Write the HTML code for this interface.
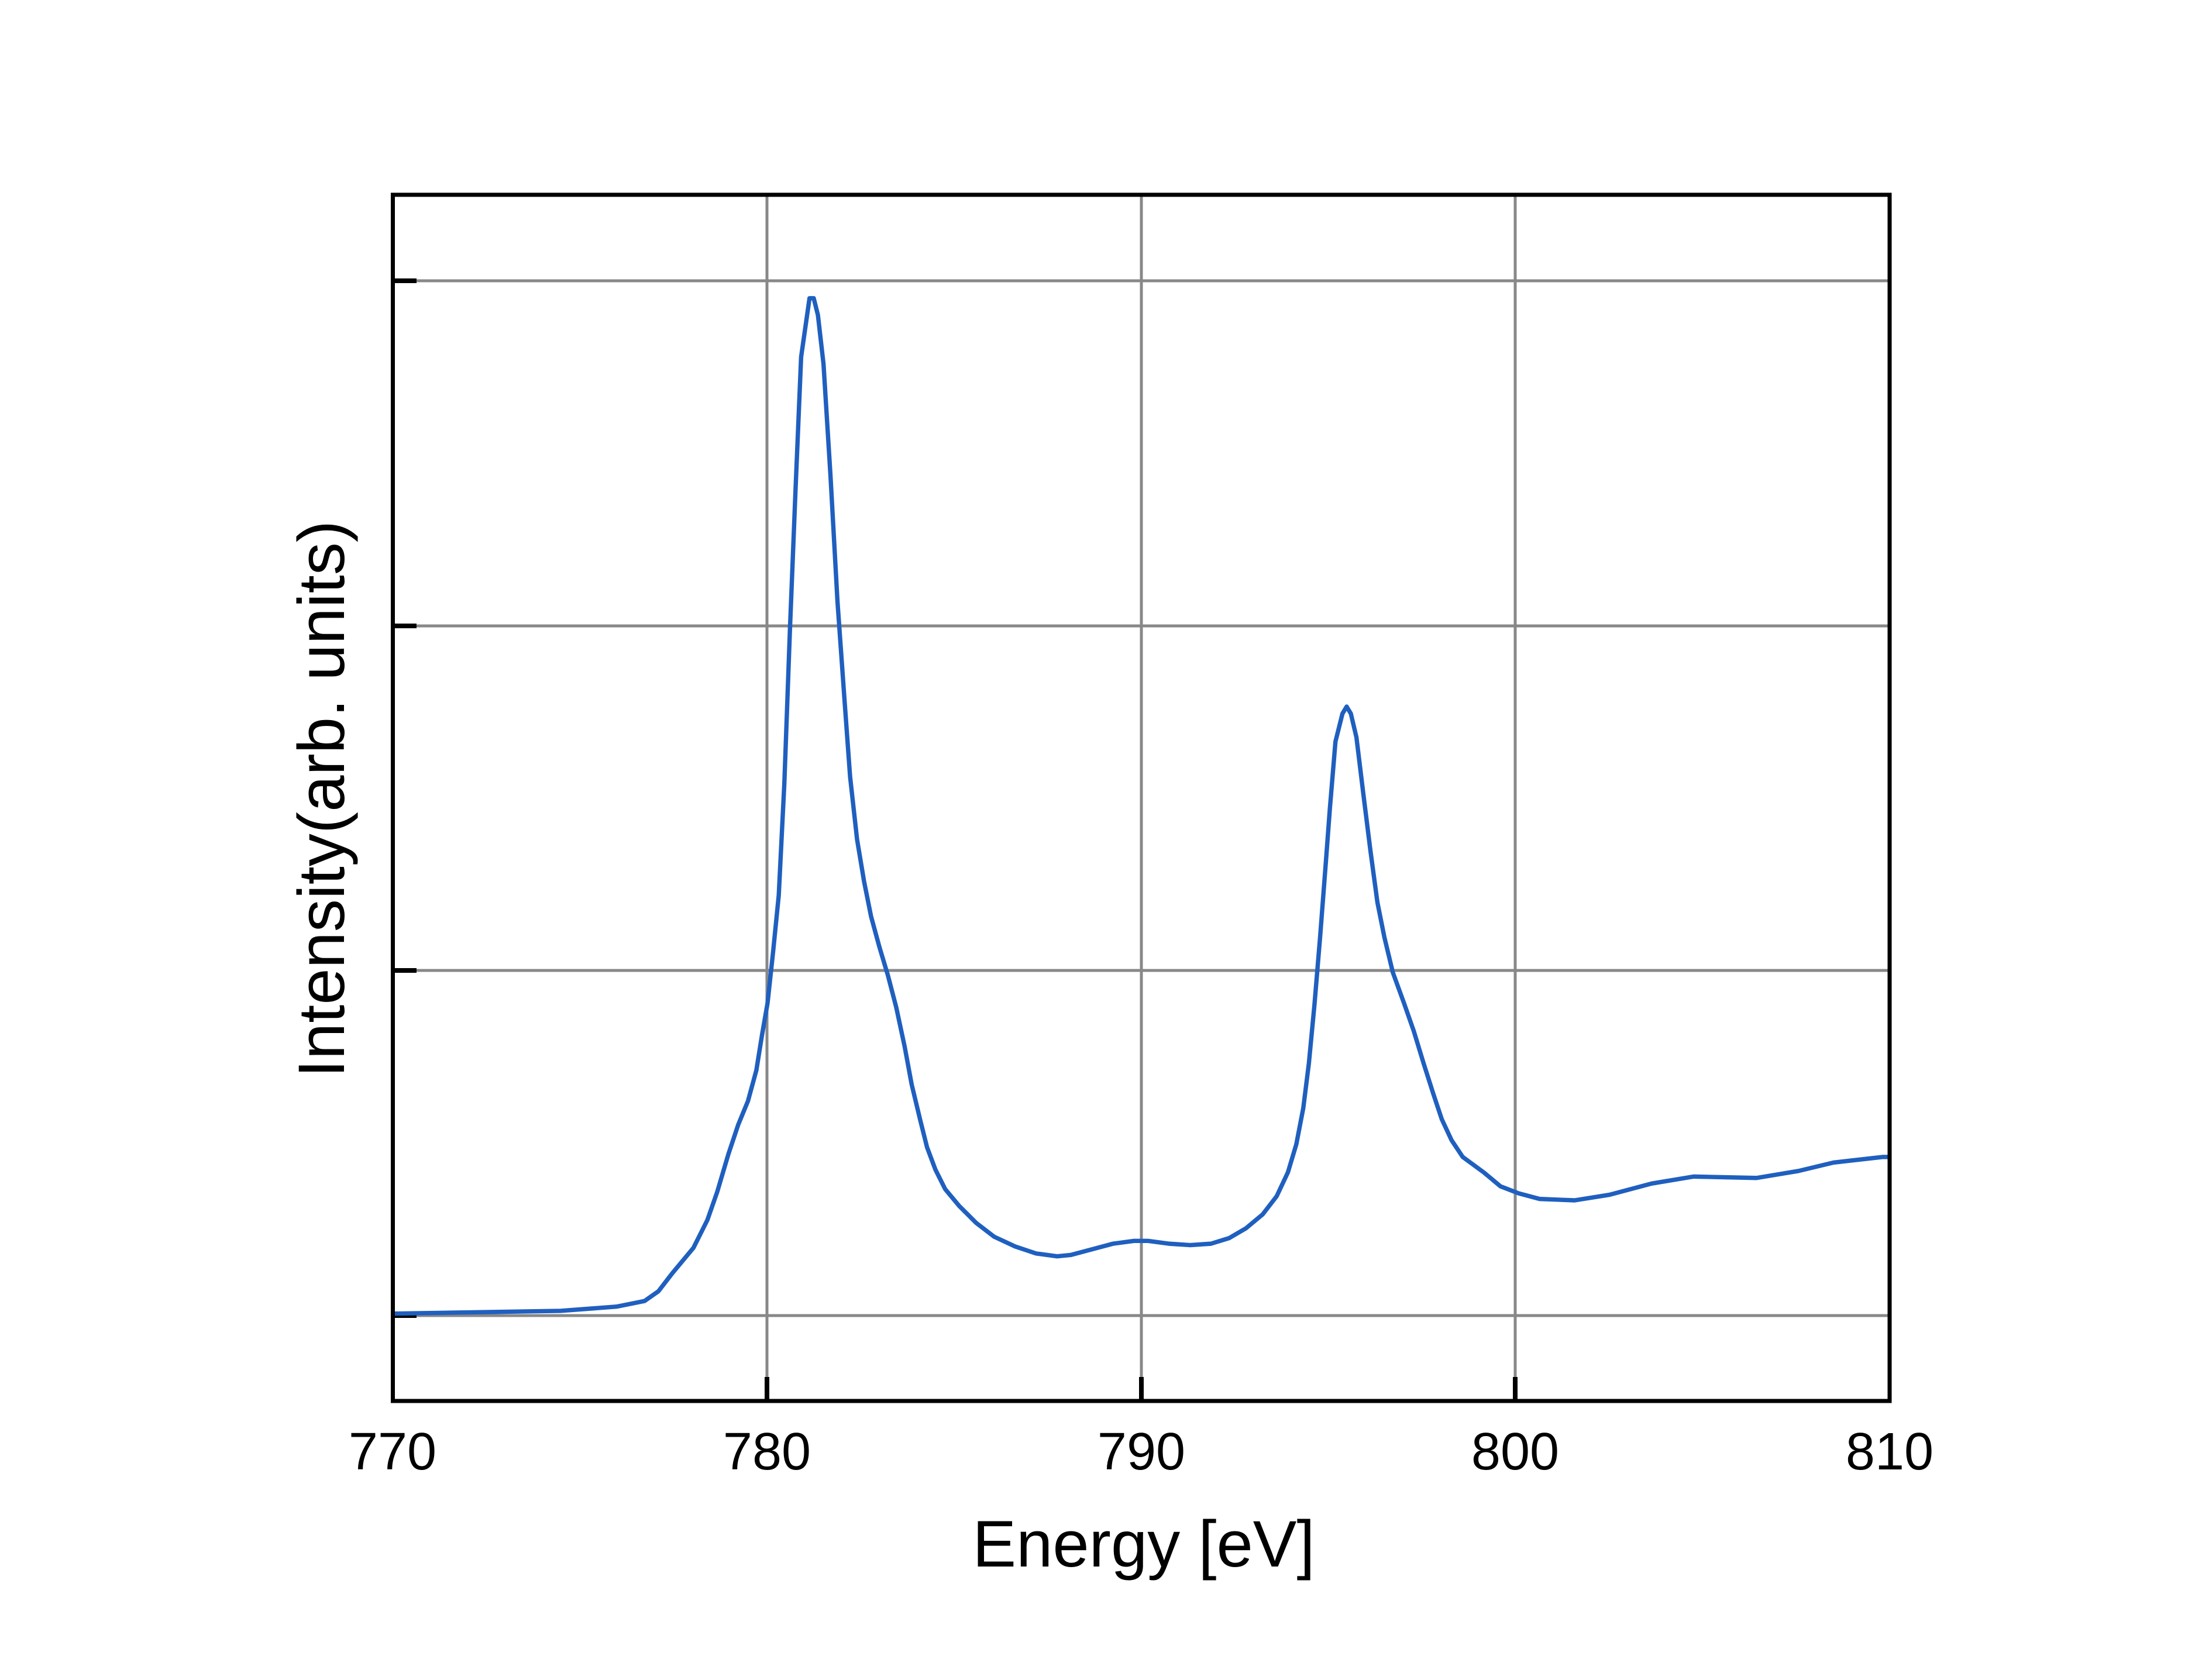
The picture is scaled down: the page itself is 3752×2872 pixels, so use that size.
<!DOCTYPE html>
<html><head><meta charset="utf-8"><style>html,body{margin:0;padding:0;background:#fff}svg{display:block}</style></head>
<body>
<svg width="3752" height="2872" viewBox="0 0 3752 2872" xmlns="http://www.w3.org/2000/svg">
<rect width="3752" height="2872" fill="#fff"/>
<g stroke="#888" stroke-width="5">
<line x1="1311" y1="333" x2="1311" y2="2395"/>
<line x1="1951" y1="333" x2="1951" y2="2395"/>
<line x1="2590" y1="333" x2="2590" y2="2395"/>
<line x1="671" y1="480" x2="3230" y2="480"/>
<line x1="671" y1="1070" x2="3230" y2="1070"/>
<line x1="671" y1="1659" x2="3230" y2="1659"/>
<line x1="671" y1="2249" x2="3230" y2="2249"/>
</g>
<g stroke="#000" stroke-width="8">
<line x1="671" y1="480" x2="712" y2="480"/>
<line x1="671" y1="1070" x2="712" y2="1070"/>
<line x1="671" y1="1659" x2="712" y2="1659"/>
<line x1="671" y1="2249" x2="712" y2="2249"/>
<line x1="1311" y1="2395" x2="1311" y2="2354"/>
<line x1="1951" y1="2395" x2="1951" y2="2354"/>
<line x1="2590" y1="2395" x2="2590" y2="2354"/>
</g>
<g transform="translate(1.74,0.53) scale(2.391)">
<polyline fill="none" stroke="#1f5fbf" stroke-width="3.1" stroke-linejoin="round" points="280,939 400,937 440,934 460,930 470,923 480,910 495,892 505,872 512,852 520,825 527,804 534,787 540,765 544,740 548,717 552,680 556,640 560,560 564,450 568,350 572,255 578,213 581,213 584,225 588,260 593,340 598,430 603,500 607,555 612,600 617,630 622,655 628,677 634,697 640,720 646,748 651,775 657,800 662,820 668,836 675,850 685,862 697,874 710,884 725,891 740,896 755,898 765,897 780,893 795,889 810,887 820,887 835,889 850,890 865,889 878,885 890,878 902,868 912,855 920,838 926,818 931,792 935,760 939,718 943,670 947,618 950,578 954,530 959,510 962,505 965,510 969,527 974,568 979,608 984,645 989,670 995,695 1003,717 1010,737 1017,760 1024,782 1030,800 1037,815 1045,827 1060,838 1072,848 1085,853 1100,857 1125,858 1150,854 1180,846 1210,841 1255,842 1285,837 1310,831 1345,827 1350,827"/>
</g>
<rect x="671.5" y="333" width="2558.5" height="2062" fill="none" stroke="#000" stroke-width="7"/>
<g font-family="Liberation Sans, Arial, sans-serif" font-size="90" text-anchor="middle" fill="#000">
<text x="671" y="2512">770</text>
<text x="1311" y="2512">780</text>
<text x="1951" y="2512">790</text>
<text x="2590" y="2512">800</text>
<text x="3230" y="2512">810</text>
</g>
<text x="1955" y="2678" font-family="Liberation Sans, Arial, sans-serif" font-size="112" text-anchor="middle">Energy [eV]</text>
<text transform="translate(588,1366) rotate(-90)" font-family="Liberation Sans, Arial, sans-serif" font-size="112" text-anchor="middle">Intensity(arb. units)</text>
</svg>
</body></html>
